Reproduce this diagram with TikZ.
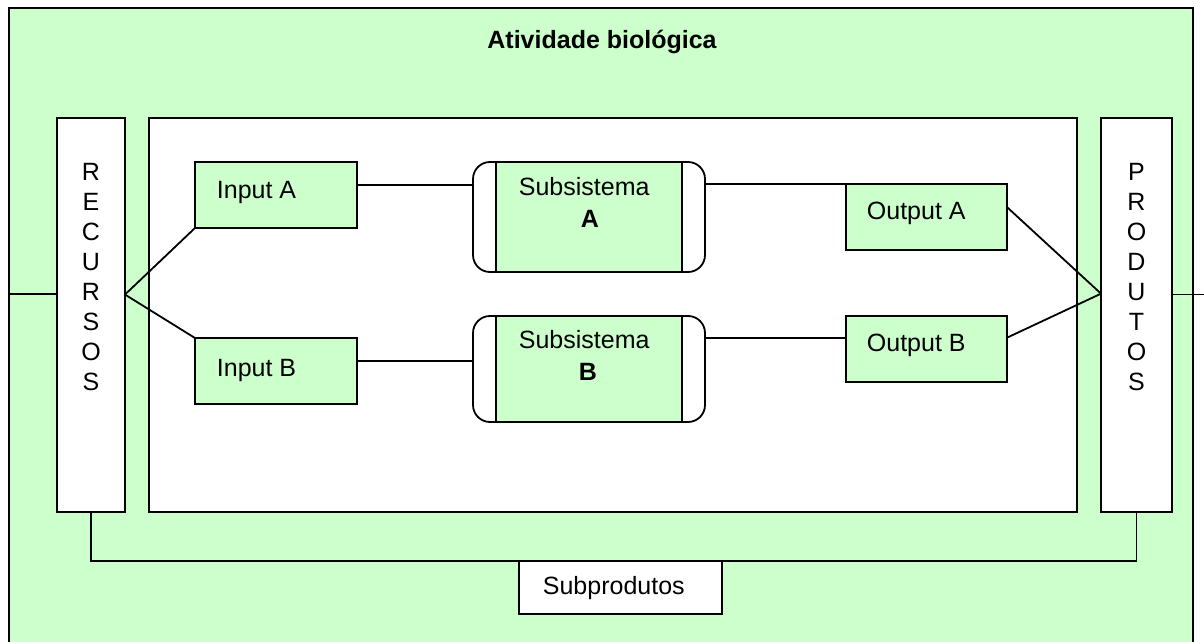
\documentclass[tikz,border=0pt]{standalone}
\usepackage{fontspec}
\setmainfont{Liberation Sans}
\usetikzlibrary{positioning}

\begin{document}
\begin{tikzpicture}[x=0.5pt,y=-0.5pt,line width=0.9pt,
	box/.style={rectangle,draw,inner sep=0pt,outer sep=0pt},
	green box/.style={box,fill=verde},
	white box/.style={box,fill=white},
	io box/.style={green box,minimum width=81pt,minimum height=33pt},
	sub box/.style={white box,rounded corners=8.5pt,minimum width=116pt},
	core box/.style={green box,minimum width=93pt},
	col box/.style={white box,minimum height=197pt},
	txt/.style={font=\fontsize{12.5}{15}\selectfont,inner sep=0pt}]
	
	\definecolor{verde}{RGB}{204,255,204}
	\useasboundingbox (0,0) rectangle (1204,642);
	
	\node[green box, minimum width=592pt, minimum height=326pt] (ativ) at (601,334) {};
	\node[txt, font=\fontsize{12.5}{15}\selectfont\bfseries, anchor=base] (titulo) at (602,49) {Atividade biológica};
	
	\node[white box, minimum width=464pt, minimum height=197pt] (nucleo) at (613,315) {};
	\node[col box, minimum width=34pt] (rec) at (91,315) {};
	\node[col box, minimum width=35.5pt] (prod) at (1136.5,315) {};
	\node[txt, align=center] (rectxt) at (91,277) {R\\E\\C\\U\\R\\S\\O\\S};
	\node[txt, align=center] (prodtxt) at (1136.5,277) {P\\R\\O\\D\\U\\T\\O\\S};
	
	% entradas
	\node[io box] (ina) at (276,195) {};
	\node[io box] (inb) at (276,371) {};
	\node[txt, anchor=base west] (inatxt) at (216,198) {Input A};
	\node[txt, anchor=base west] (inbtxt) at (216,376) {Input B};
	
	% subsistemas
	\node[sub box, minimum height=55pt] (suba) at (589,217) {};
	\node[core box, minimum height=55pt] (subacore) at (589,217) {};
	\node[sub box, minimum height=53pt] (subb) at (589,369) {};
	\node[core box, minimum height=53pt] (subbcore) at (589,369) {};
	\node[txt, anchor=base west] (subatxt) at (518,195) {Subsistema};
	\node[txt, font=\fontsize{12.5}{15}\selectfont\bfseries, anchor=base] (subaid) at (590,227) {A};
	\node[txt, anchor=base west] (subbtxt) at (518,348) {Subsistema};
	\node[txt, font=\fontsize{12.5}{15}\selectfont\bfseries, anchor=base] (subbid) at (588,380) {B};
	
	% saidas
	\node[io box, minimum width=80.5pt] (outa) at (926.5,217) {};
	\node[io box, minimum width=80.5pt] (outb) at (926.5,349) {};
	\node[txt, anchor=base west] (outatxt) at (866,219) {Output A};
	\node[txt, anchor=base west] (outbtxt) at (866,351) {Output B};
	
	\coordinate (saida) at (1204,294);
	
	\draw (rec.148.3) -- (rec.148.3 -| ativ.west);
	\draw (rec.31.7) -- (ina.south west);
	\draw (rec.31.7) -- (inb.north west);
	\draw (ina.7.7) -- (ina.7.7 -| suba.west);
	\draw (inb.7.7) -- (inb.7.7 -| subb.west);
	\draw (outa.north west) -- (outa.north west -| suba.east);
	\draw (outb.172.2) -- (outb.172.2 -| subb.east);
	\draw (outa.7.1) -- (prod.149.4);
	\draw (outb.8.5) -- (prod.149.4);
	\draw (prod.30.6) -- (prod.30.6 -| saida);
	
	% subprodutos
	\coordinate (subptop) at (620.5,561);
	\draw (rec.south) -- (rec.south |- subptop) -- (prod.south |- subptop) -- (prod.south);
	\node[white box, minimum width=101.5pt, minimum height=26.5pt] (subp) at (620.5,587.5) {};
	\node[txt, anchor=base west] (subptxt) at (542,594) {Subprodutos};
\end{tikzpicture}
\end{document}
